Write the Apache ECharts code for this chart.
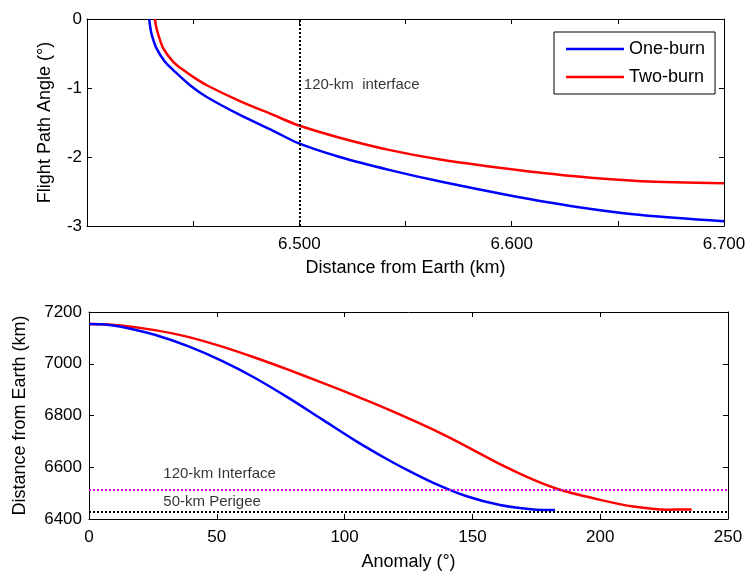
<!DOCTYPE html>
<html>
<head>
<meta charset="utf-8">
<script src="https://cdn.jsdelivr.net/npm/echarts@6/dist/echarts.min.js"></script>
<style>html,body{margin:0;padding:0;background:#fff;}#c{width:750px;height:574px;}</style>
</head>
<body>
<div id="c"></div>
<script>
// ---- Top panel: flight path angle vs distance ----
const oneBurnDist  = [6429.3, 6429.7, 6430.5, 6432.8, 6436.7, 6440.6, 6448.5, 6456.4, 6472, 6487.7, 6499.5, 6519, 6542.7, 6567, 6598, 6630, 6661, 6700];
const oneBurnAngle = [0, -0.10, -0.23, -0.43, -0.62, -0.74, -0.96, -1.13, -1.39, -1.62, -1.80, -2.00, -2.19, -2.36, -2.55, -2.72, -2.84, -2.93];
const twoBurnDist  = [6432, 6432.5, 6433.6, 6436, 6440.6, 6445.4, 6450.5, 6456.4, 6472, 6487.7, 6499.5, 6519, 6542.7, 6567, 6598, 6630, 6661, 6700];
const twoBurnAngle = [0, -0.10, -0.23, -0.43, -0.62, -0.74, -0.85, -0.96, -1.19, -1.39, -1.54, -1.72, -1.90, -2.04, -2.17, -2.28, -2.35, -2.38];
const interfaceDist = 6500;

// ---- Bottom panel: distance vs anomaly ----
const oneBurnAnom  = [0, 5, 12.6, 25.7, 38.7, 51.8, 64.8, 77.9, 90.9, 104, 117, 124.8, 134.7, 147.8, 160.8, 173.8, 182.3];
const oneBurnRad   = [7154, 7153, 7143, 7112, 7068, 7012, 6946, 6869, 6787, 6704, 6629, 6588, 6540, 6488, 6454, 6437, 6435];
const twoBurnAnom  = [0, 5, 12.6, 25.7, 38.7, 51.8, 64.8, 77.9, 90.9, 104, 117, 124.8, 134.7, 147.8, 160.8, 173.8, 184.3, 200, 213, 226, 235.8];
const twoBurnRad   = [7154, 7153, 7148, 7130, 7104, 7067, 7024, 6977, 6928, 6877, 6824, 6790, 6745, 6680, 6612, 6552, 6513, 6474, 6448, 6436, 6437];
const interfaceRad = 6514;
const perigeeRad   = 6429;

const topXTicks = {min: 6400, max: 6700, interval: 50};
const topYTicks = {min: -3, max: 0, interval: 1};
const botXTicks = {min: 0, max: 250, interval: 50};
const botYTicks = {min: 6400, max: 7200, interval: 200};

const zip = (a, b) => a.map((v, i) => [v, b[i]]);
const FONT = 'Liberation Sans, Arial, sans-serif';
const BLUE = '#0000ff', RED = '#ff0000', MAG = '#d000d0';
const TICK_FS = 17, NAME_FS = 18;

const labelStyle = (extra) => Object.assign({color: '#000', fontFamily: FONT, fontSize: TICK_FS}, extra);
const axisBase = () => ({
  type: 'value',
  axisLine: {show: true, onZero: false, lineStyle: {color: '#000', width: 1}},
  axisTick: {show: true, inside: true, length: 5, lineStyle: {color: '#000'}},
  splitLine: {show: false},
  axisLabel: labelStyle({}),
  nameTextStyle: {color: '#000', fontFamily: FONT, fontSize: NAME_FS}
});
const ax = (o) => Object.assign(axisBase(), o);
const hidden = (o) => ax(Object.assign({axisLabel: {show: false}}, o));

const chart = echarts.init(document.getElementById('c'));
chart.setOption({
  animation: false,
  backgroundColor: '#fff',
  grid: [
    {left: 87, right: 26, top: 19, bottom: 348},
    {left: 89, right: 22, top: 312, bottom: 55}
  ],
  legend: {
    data: ['One-burn', 'Two-burn'],
    orient: 'vertical',
    left: 554, top: 32,
    padding: [8, 10, 8, 12],
    itemWidth: 58, itemHeight: 15, itemGap: 10,
    icon: 'path://M0,0 H58 V2.6 H0 Z',
    borderColor: '#000', borderWidth: 1, backgroundColor: '#fff',
    textStyle: {color: '#000', fontFamily: FONT, fontSize: 18}
  },
  xAxis: [
    ax(Object.assign({gridIndex: 0, position: 'bottom', name: 'Distance from Earth (km)', nameLocation: 'middle', nameGap: 33,
      axisLabel: labelStyle({margin: 10,
        formatter: v => (v % 100 === 0 && v > topXTicks.min) ? (v / 1000).toFixed(3) : ''})}, topXTicks)),
    hidden(Object.assign({gridIndex: 0, position: 'top'}, topXTicks)),
    ax(Object.assign({gridIndex: 1, position: 'bottom', name: 'Anomaly (°)', nameLocation: 'middle', nameGap: 34,
      axisLabel: labelStyle({margin: 10})}, botXTicks)),
    hidden(Object.assign({gridIndex: 1, position: 'top'}, botXTicks))
  ],
  yAxis: [
    ax(Object.assign({gridIndex: 0, position: 'left', name: 'Flight Path Angle (°)', nameLocation: 'middle', nameGap: 33,
      axisLabel: labelStyle({margin: 5, formatter: v => String(v)})}, topYTicks)),
    hidden(Object.assign({gridIndex: 0, position: 'right'}, topYTicks)),
    ax(Object.assign({gridIndex: 1, position: 'left', name: 'Distance from Earth (km)', nameLocation: 'middle', nameGap: 60,
      axisLabel: labelStyle({margin: 7, formatter: v => String(v)})}, botYTicks)),
    hidden(Object.assign({gridIndex: 1, position: 'right'}, botYTicks))
  ],
  series: [
    {
      name: 'One-burn', type: 'line', xAxisIndex: 0, yAxisIndex: 0,
      data: zip(oneBurnDist, oneBurnAngle), showSymbol: false, symbol: 'none',
      smooth: 0.3,
      lineStyle: {color: BLUE, width: 2.5}, itemStyle: {color: BLUE},
      markLine: {
        silent: true, symbol: 'none', label: {show: false},
        lineStyle: {color: '#000', type: [2, 2], width: 2},
        data: [{xAxis: interfaceDist}]
      },
      z: 3
    },
    {
      name: 'Two-burn', type: 'line', xAxisIndex: 0, yAxisIndex: 0,
      data: zip(twoBurnDist, twoBurnAngle), showSymbol: false, symbol: 'none',
      smooth: 0.3,
      lineStyle: {color: RED, width: 2.5}, itemStyle: {color: RED}, z: 3
    },
    {
      type: 'scatter', xAxisIndex: 0, yAxisIndex: 0, silent: true,
      symbolSize: 1, itemStyle: {color: 'rgba(0,0,0,0)'},
      data: [[interfaceDist, -0.96]],
      label: {show: true, position: 'right', distance: 4, formatter: '120-km  interface',
        color: '#000', fontFamily: FONT, fontSize: 15}
    },
    {
      name: 'Two-burn', type: 'line', xAxisIndex: 2, yAxisIndex: 2,
      data: zip(twoBurnAnom, twoBurnRad), showSymbol: false, symbol: 'none',
      smooth: 0.3,
      lineStyle: {color: RED, width: 2.5}, itemStyle: {color: RED}, z: 3
    },
    {
      name: 'One-burn', type: 'line', xAxisIndex: 2, yAxisIndex: 2,
      data: zip(oneBurnAnom, oneBurnRad), showSymbol: false, symbol: 'none',
      smooth: 0.3,
      lineStyle: {color: BLUE, width: 2.5}, itemStyle: {color: BLUE}, z: 4,
      markLine: {
        silent: true, symbol: 'none', label: {show: false},
        data: [
          {yAxis: interfaceRad, lineStyle: {color: MAG, type: [2, 2], width: 2}},
          {yAxis: perigeeRad, lineStyle: {color: '#000', type: [2, 2], width: 2}}
        ]
      }
    },
    {
      type: 'scatter', xAxisIndex: 2, yAxisIndex: 2, silent: true,
      symbolSize: 1, itemStyle: {color: 'rgba(0,0,0,0)'},
      data: [
        {value: [28.5, 6576], label: {formatter: '120-km Interface'}},
        {value: [28.5, 6465], label: {formatter: '50-km Perigee'}}
      ],
      label: {show: true, position: 'right', distance: 1,
        color: '#000', fontFamily: FONT, fontSize: 15}
    }
  ]
});
</script>
</body>
</html>
